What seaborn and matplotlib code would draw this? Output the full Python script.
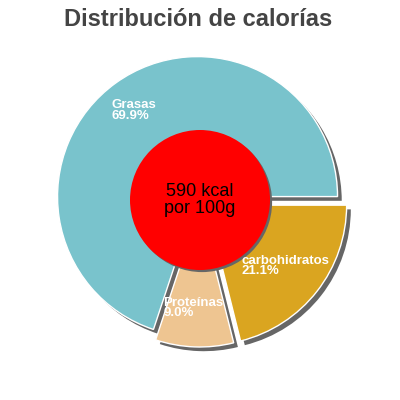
import matplotlib
matplotlib.use("Agg")
import matplotlib.pyplot as plt
import matplotlib.patches as mpatches
import seaborn as sns

# data
nutrients = ["Grasas", "Proteínas", "carbohidratos"]
percents = [69.9, 9.0, 21.1]
slice_colors = ["#79C3CC", "#EEC591", "#DAA520"]
explode = [0.03, 0.05, 0.06]
kcal = 590

sns.set_theme(style="white")
plt.rcParams["font.family"] = ["Liberation Sans", "DejaVu Sans"]

fig = plt.figure(figsize=(4, 4), dpi=100)
ax = fig.add_axes([0, 0, 1, 1])

shadow_off = 0.03
# shadow pie, drawn first and shifted down-right
ax.pie(percents, colors=["#666666"] * len(percents), explode=explode,
       startangle=0, center=(shadow_off, -shadow_off),
       wedgeprops=dict(linewidth=0))
wedges, _ = ax.pie(
    percents,
    colors=slice_colors,
    explode=explode,
    startangle=0,
    counterclock=True,
    wedgeprops=dict(edgecolor="white", linewidth=1),
)

# center disc with its shadow
ax.add_patch(mpatches.Circle((0.015, -0.015), 0.5, facecolor="#666666",
                             edgecolor="none", zorder=4))
ax.add_patch(mpatches.Circle((0, 0), 0.5, facecolor="#FF0000",
                             edgecolor="none", zorder=5))
ax.text(0, 0, f"{kcal} kcal\npor 100g", ha="center", va="center",
        fontsize=13, color="black", zorder=6, linespacing=1.0)

# slice labels
label_pos = {"Grasas": (-0.63, 0.72), "Proteínas": (-0.26, -0.69),
             "carbohidratos": (0.30, -0.39)}
for name, pct in zip(nutrients, percents):
    x, y = label_pos[name]
    ax.text(x, y, f"{name}\n{pct:.1f}%", ha="left", va="top", fontsize=9.5,
            color="white", fontweight="bold", linespacing=0.85, zorder=6)

lim = 200 / 140
ax.set_xlim(-lim, lim)
ax.set_ylim(-lim, lim)
ax.set_aspect("equal")
ax.axis("off")

fig.text(0.495, 0.952, "Distribución de calorías", ha="center", va="center",
         fontsize=17, fontweight="bold", color="#444444")

fig.savefig("out.png", dpi=100, facecolor="white")
